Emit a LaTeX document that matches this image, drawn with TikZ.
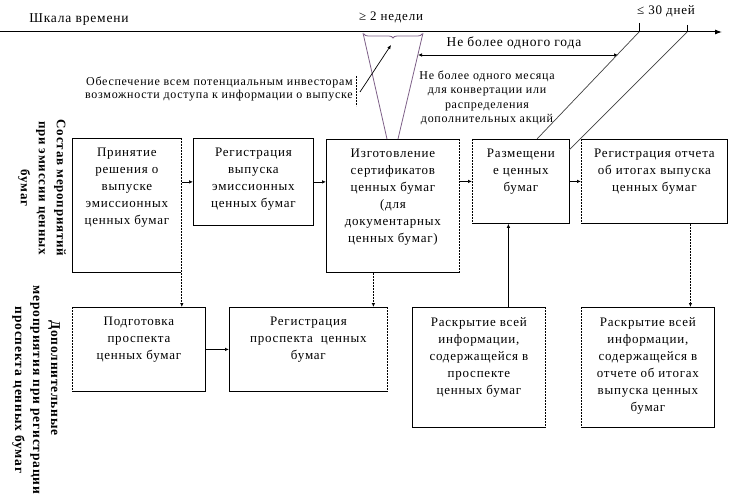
\documentclass[tikz,border=0pt]{standalone}
\usepackage{fontspec}
\setmainfont{Liberation Serif}[LetterSpace=6]
\usetikzlibrary{arrows.meta,calc,decorations.pathreplacing}
\definecolor{vline}{RGB}{125,95,135}
\begin{document}
\begin{tikzpicture}[x=1pt,y=-1pt,
  box/.style={draw,line width=0.8pt,anchor=north west,inner sep=0pt},
  btxt/.style={anchor=north,align=center,inner sep=0pt,font=\fontsize{13}{17}\selectfont},
  small/.style={inner sep=0pt,font=\fontsize{12}{13.5}\selectfont},
  mid/.style={inner sep=0pt,font=\fontsize{12}{14.5}\selectfont},
  side/.style={inner sep=0pt,align=center,rotate=-90},
  arr/.style={line width=0.7pt,-{Latex[length=4pt,width=3.5pt]}},
  dsh/.style={line width=0.7pt,dash pattern=on 2pt off 1pt},
  dside/.style={dash pattern=on 2pt off 1pt,line width=0.8pt},
  wipe/.style={white,line width=1.4pt}]
\useasboundingbox (0,0) rectangle (736,500);

% time axis
\coordinate (t0) at (0,32);
\coordinate (t1) at (722,32);
\draw[line width=1pt,-{Latex[length=7pt,width=5pt]}] (t0) -- (t1);
\node[font=\fontsize{13.5}{16}\selectfont,inner sep=0pt] (scale) at (79,20) {Шкала времени};
\node[font=\fontsize{13}{16}\selectfont,inner sep=0pt] (twow) at (391,17) {≥ 2 недели};
\node[font=\fontsize{13}{16}\selectfont,inner sep=0pt] (thirty) at (666,11) {≤ 30 дней};
\coordinate (k1) at (639,32);
\coordinate (k1t) at (639,23);
\coordinate (k2) at (687,32);
\coordinate (k2t) at (687,25);
\draw[line width=0.7pt] (k1t) -- (k1);
\draw[line width=0.7pt] (k2t) -- (k2);

% boxes, row 1
\node[box,minimum width=109pt,minimum height=134pt] (b1) at (72,138) {};
\node[box,minimum width=120pt,minimum height=87pt] (b2) at (193,138) {};
\node[box,minimum width=133pt,minimum height=133pt] (b3) at (326,139) {};
\node[box,minimum width=97pt,minimum height=84pt] (b4) at (472,139) {};
\node[box,minimum width=146pt,minimum height=84pt] (b5) at (581,139) {};
% boxes, row 2
\node[box,minimum width=133pt,minimum height=84pt] (b6) at (72,307) {};
\node[box,minimum width=158pt,minimum height=84pt] (b7) at (229,307) {};
\node[box,minimum width=133pt,minimum height=120pt] (b8) at (412,307) {};
\node[box,minimum width=133pt,minimum height=120pt] (b9) at (581,307) {};

% dashed sides
\foreach \a/\b in {b1.north east/b1.south east,b3.north east/b3.south east,
  b4.north west/b4.south west,b5.north west/b5.south west,
  b6.north west/b6.south west,b7.north east/b7.south east,
  b8.north east/b8.south east,b9.north west/b9.south west}{
  \draw[wipe] (\a) -- (\b);
  \draw[dside] (\a) -- (\b);
}

% box texts
\node[btxt] (x1) at ([yshift=-10pt]b1.north) {Принятие\\решения о\\выпуске\\эмиссионных\\ценных бумаг};
\node[btxt] (x2) at ([yshift=-10pt]b2.north) {Регистрация\\выпуска\\эмиссионных\\ценных бумаг};
\node[btxt] (x3) at ([yshift=-10pt]b3.north) {Изготовление\\сертификатов\\ценных бумаг\\(для\\документарных\\ценных бумаг)};
\node[btxt] (x4) at ([yshift=-10pt]b4.north) {Размещени\\е ценных\\бумаг};
\node[btxt] (x5) at ([yshift=-10pt]b5.north) {Регистрация отчета\\об итогах выпуска\\ценных бумаг};
\node[btxt] (x6) at ([yshift=-10pt]b6.north) {Подготовка\\проспекта\\ценных бумаг};
\node[btxt] (x7) at ([yshift=-10pt]b7.north) {Регистрация\\проспекта \ ценных\\бумаг};
\node[btxt] (x8) at ([yshift=-10pt]b8.north) {Раскрытие всей\\информации,\\содержащейся в\\проспекте\\ценных бумаг};
\node[btxt] (x9) at ([yshift=-10pt]b9.north) {Раскрытие всей\\информации,\\содержащейся в\\отчете об итогах\\выпуска ценных\\бумаг};

% horizontal arrows
\draw[arr] (b1.east |- b2.east) -- (b2.west);
\draw[arr] (b2.east) -- (b2.east -| b3.west);
\draw[arr] (b3.east |- b4.west) -- (b4.west);
\draw[arr] (b4.east) -- (b5.west);
\draw[arr] (b6.east) -- (b6.east -| b7.west);

% vertical connectors
\draw[arr,dsh] (b1.south east) -- (b1.south east |- b6.north);
\coordinate (c3) at ([xshift=-19.5pt]b3.south);
\draw[arr,dsh] (c3) -- (c3 |- b7.north);
\coordinate (c8) at ([xshift=29.5pt]b8.north);
\draw[arr] (c8) -- (c8 |- b4.south);
\coordinate (c5) at ([xshift=36pt]b5.south);
\draw[arr,dsh] (c5) -- (c5 |- b9.north);

% two-week funnel
\coordinate (va) at (363,33);
\coordinate (vb) at (423,33);
\coordinate (vc) at (387,139);
\coordinate (vd) at (398,139);
\draw[vline,line width=0.8pt] (va) -- (vc);
\draw[vline,line width=0.8pt] (vb) -- (vd);
\draw[vline,line width=0.8pt,decorate,decoration={brace,mirror,amplitude=4pt}] (364,34) -- (422,34);

% investors note
\node[small,align=right,anchor=east] (inv) at (353,89) {Обеспечение всем потенциальным инвесторам\\возможности доступа к информации о выпуске};
\coordinate (ia) at (356,76);
\coordinate (ib) at (356,106);
\draw[dsh] (ia) -- (ib);
\coordinate (ic) at (360,92);
\coordinate (id) at (391,45);
\draw[arr] (ic) -- (id);

% one year
\coordinate (ya) at (418,55);
\coordinate (yb) at (618,55);
\draw[line width=0.7pt,{Latex[length=4pt,width=3.5pt]}-{Latex[length=4pt,width=3.5pt]}] (ya) -- (yb);
\node[inner sep=0pt,font=\fontsize{13.5}{16}\selectfont] (year) at (514,43) {Не более одного года};
\node[mid,align=center] (month) at (487,98) {Не более одного месяца\\для конвертации или\\распределения\\дополнительных акций};

% slanted lines to placement box
\coordinate (s1) at (537,139);
\coordinate (s2) at (569,150);
\draw[line width=0.7pt,black!75] (k1) -- (s1);
\draw[line width=0.7pt,black!75] (k2) -- (s2);

% side labels
\node[side,font=\bfseries\fontsize{13}{18}\selectfont] (l1) at (42,188) {Состав мероприятий\\при эмиссии ценных\\бумаг};
\node[side,font=\bfseries\fontsize{13.5}{18}\selectfont] (l2) at (36,390) {Дополнительные\rule{24pt}{0pt}\\мероприятия при регистрации\\проспекта ценных бумаг};
\end{tikzpicture}
\end{document}
